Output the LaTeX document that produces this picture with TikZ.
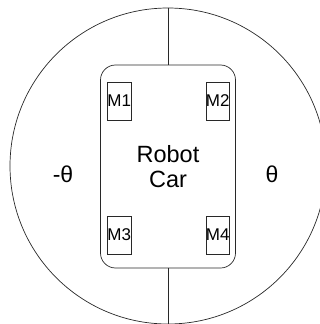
\documentclass[tikz,border=0pt]{standalone}
\usepackage{fontspec}
\setmainfont{Liberation Sans}
\usepackage{tikz}
\usetikzlibrary{positioning}
\definecolor{mydark}{RGB}{40,40,40}
\tikzset{
  turnzone/.style={circle, draw=mydark, minimum size=316pt, inner sep=0pt, line width=0.7pt},
  carbody/.style={rectangle, draw=mydark, minimum width=135pt, minimum height=203pt,
    rounded corners=15pt, line width=0.7pt, align=center,
    font=\fontsize{23.5}{25}\selectfont},
  motor/.style={rectangle, draw=mydark, minimum width=22pt, minimum height=38pt,
    inner sep=0pt, line width=0.5pt, font=\fontsize{17}{18}\selectfont},
  anglelabel/.style={font=\fontsize{23}{24}\selectfont},
  line/.style={line width=0.7pt, color=mydark}
}
\begin{document}
\begin{tikzpicture}[x=1pt, y=1pt]
  \useasboundingbox (0,0) rectangle (320,-324);
  \node[turnzone] (turn) at (168,-166) {};
  \node[carbody] (car) at (168,-166.5) {Robot\\Car};

  \node[motor, below right=17pt and 7pt of car.north west, anchor=north west] (m1) {M1};
  \node[motor, below left=17pt and 6pt of car.north east, anchor=north east] (m2) {M2};
  \node[motor, above right=14pt and 7pt of car.south west, anchor=south west] (m3) {M3};
  \node[motor, above left=14pt and 6pt of car.south east, anchor=south east] (m4) {M4};

  \node[anglelabel] (neg) at (63,-174) {-θ};
  \node[anglelabel] (pos) at (272,-174) {θ};

  \draw[line] (turn.north) -- (car.north);
  \draw[line] (car.south) -- (turn.south);
\end{tikzpicture}
\end{document}
